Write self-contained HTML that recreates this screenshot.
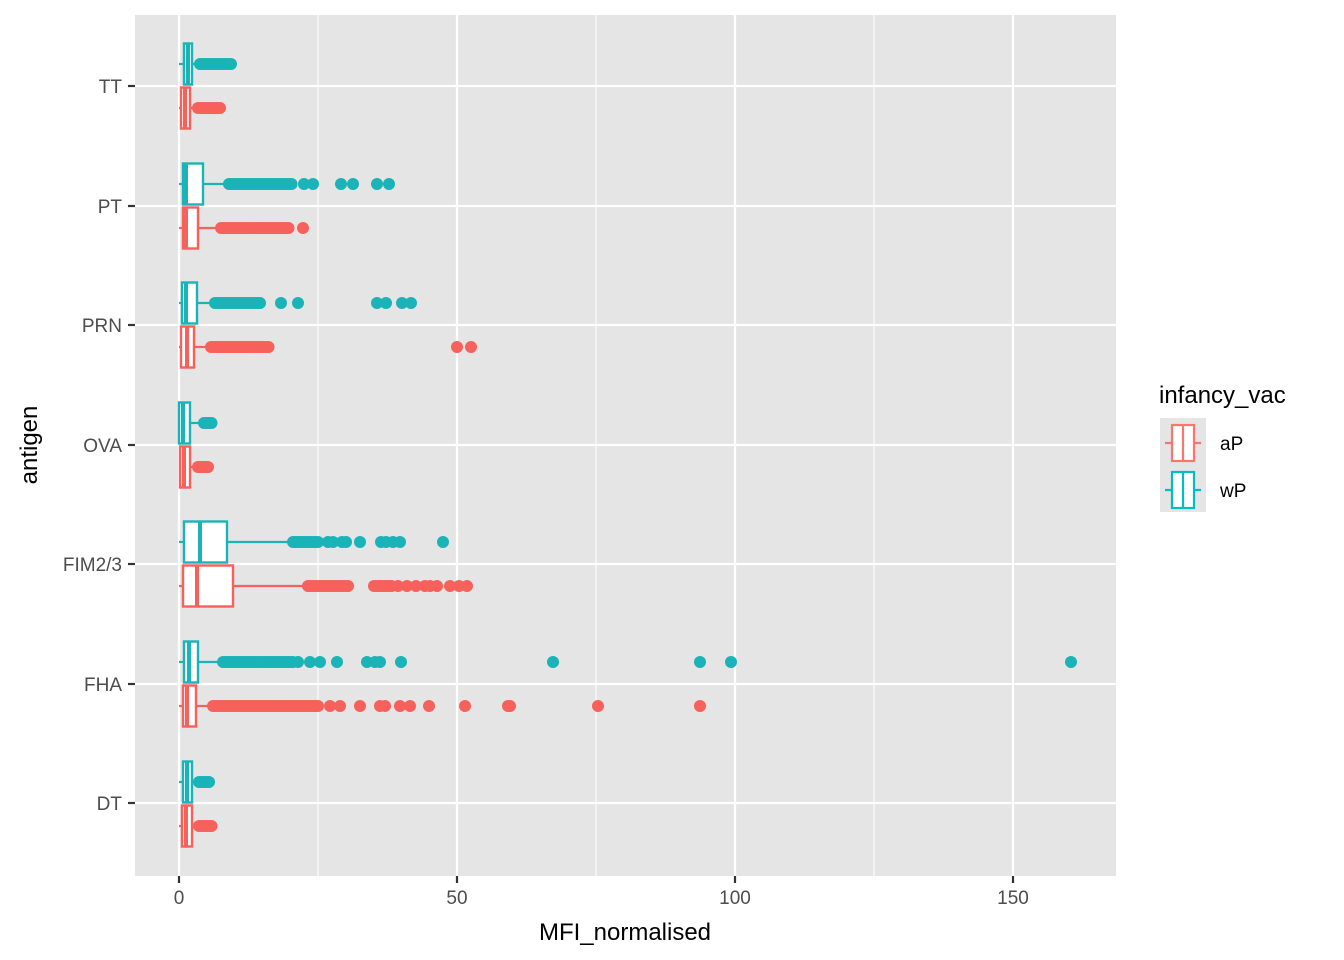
<!DOCTYPE html>
<html><head><meta charset="utf-8"><style>
html,body{margin:0;padding:0;background:#fff}
svg{display:block}
text{font-family:"Liberation Sans",Arial,sans-serif}
</style></head><body>
<svg id="s" width="1344" height="960" xmlns="http://www.w3.org/2000/svg">
<rect x="135" y="15" width="981" height="861" fill="#e5e5e5"/>
<g stroke="#fff" stroke-width="1.1">
<line x1="318" y1="15" x2="318" y2="876"/><line x1="596" y1="15" x2="596" y2="876"/><line x1="874" y1="15" x2="874" y2="876"/>
</g>
<g stroke="#fff" stroke-width="2.2">
<line x1="179" y1="15" x2="179" y2="876"/><line x1="457" y1="15" x2="457" y2="876"/><line x1="735" y1="15" x2="735" y2="876"/><line x1="1013" y1="15" x2="1013" y2="876"/>
<line x1="135" y1="86" x2="1116" y2="86"/><line x1="135" y1="206" x2="1116" y2="206"/><line x1="135" y1="325" x2="1116" y2="325"/><line x1="135" y1="445" x2="1116" y2="445"/><line x1="135" y1="564" x2="1116" y2="564"/><line x1="135" y1="684" x2="1116" y2="684"/><line x1="135" y1="803" x2="1116" y2="803"/>
</g>
<g id="data"></g>
<g stroke="#333" stroke-width="2.2">
<line x1="179" y1="876" x2="179" y2="883"/><line x1="457" y1="876" x2="457" y2="883"/><line x1="735" y1="876" x2="735" y2="883"/><line x1="1013" y1="876" x2="1013" y2="883"/>
<line x1="128" y1="86" x2="135" y2="86"/><line x1="128" y1="206" x2="135" y2="206"/><line x1="128" y1="325" x2="135" y2="325"/><line x1="128" y1="445" x2="135" y2="445"/><line x1="128" y1="564" x2="135" y2="564"/><line x1="128" y1="684" x2="135" y2="684"/><line x1="128" y1="803" x2="135" y2="803"/>
</g>
<g fill="#4d4d4d" font-size="19" text-anchor="middle">
<text x="179" y="904">0</text><text x="457" y="904">50</text><text x="735" y="904">100</text><text x="1013" y="904">150</text>
</g>
<g fill="#4d4d4d" font-size="19" text-anchor="end">
<text x="122" y="93">TT</text><text x="122" y="213">PT</text><text x="122" y="332">PRN</text><text x="122" y="452">OVA</text><text x="122" y="571">FIM2/3</text><text x="122" y="691">FHA</text><text x="122" y="810">DT</text>
</g>
<text x="625" y="940" font-size="24" text-anchor="middle" fill="#000">MFI_normalised</text>
<text transform="translate(37,445) rotate(-90)" font-size="24" text-anchor="middle" fill="#000">antigen</text>
<text x="1159" y="403" font-size="24" fill="#000">infancy_vac</text>
<rect x="1160" y="418" width="46" height="94" fill="#e5e5e5"/>
<g stroke="#F8766D" stroke-width="2.2" fill="#fff">
<line x1="1165" y1="443" x2="1201" y2="443"/><rect x="1172" y="425" width="22" height="36"/><line x1="1183" y1="425" x2="1183" y2="461"/>
</g>
<g stroke="#00BFC4" stroke-width="2.2" fill="#fff">
<line x1="1165" y1="490" x2="1201" y2="490"/><rect x="1172" y="472" width="22" height="36"/><line x1="1183" y1="472" x2="1183" y2="508"/>
</g>
<text x="1220" y="450" font-size="19" fill="#000">aP</text>
<text x="1220" y="497" font-size="19" fill="#000">wP</text>
</svg>
<script>
var T="#1ab3b7",R="#f6615c";
var g=[
[64,T,179,184,188,192,196,[[200,229]],[231]],
[108,R,179,181,185,190,194,[[198,218]],[220]],
[184,T,179,183,186,203,224,[[229,292]],[304,313,341,353,377,389]],
[228,R,179,183,186,198,215,[[221,290]],[303]],
[303,T,179,182,186,197,212,[[215,262]],[281,298,377,386,402,411]],
[347,R,179,181,187,194,208,[[211,269]],[457,471]],
[423,T,179,179,183,190,201,[[204,213]],[]],
[467,R,179,180,184,190,195,[[198,209]],[]],
[542,T,179,184,200,227,290,[[293,320]],[328,333,342,346,360,381,386,393,400,443]],
[586,R,179,183,197,233,303,[[308,348],[374,393]],[398,407,416,425,430,437,450,459,467]],
[662,T,179,184,189,198,219,[[223,295]],[298,310,320,337,367,375,380,401,553,700,731,1071]],
[706,R,179,183,187,196,210,[[213,320]],[330,340,360,380,385,400,410,429,465,508,510,598,700]],
[782,T,179,183,187,192,196,[[199,210]],[]],
[826,R,179,182,186,192,195,[[199,213]],[]]
];
var h="";
g.forEach(function(a){
 var y=a[0],c=a[1];
 a[7].forEach(function(r){for(var x=r[0];x<=r[1];x+=2.5)h+='<circle cx="'+x+'" cy="'+y+'" r="6" fill="'+c+'"/>';});
 a[8].forEach(function(x){h+='<circle cx="'+x+'" cy="'+y+'" r="6" fill="'+c+'"/>';});
 h+='<line x1="'+a[2]+'" y1="'+y+'" x2="'+a[3]+'" y2="'+y+'" stroke="'+c+'" stroke-width="2.2"/>';
 h+='<line x1="'+a[5]+'" y1="'+y+'" x2="'+a[6]+'" y2="'+y+'" stroke="'+c+'" stroke-width="2.2"/>';
 h+='<rect x="'+a[3]+'" y="'+(y-20.5)+'" width="'+(a[5]-a[3])+'" height="41" fill="#fff" stroke="'+c+'" stroke-width="2.4"/>';
 h+='<line x1="'+a[4]+'" y1="'+(y-20.5)+'" x2="'+a[4]+'" y2="'+(y+20.5)+'" stroke="'+c+'" stroke-width="4"/>';
});
document.getElementById("data").innerHTML=h;
</script>
</body></html>
